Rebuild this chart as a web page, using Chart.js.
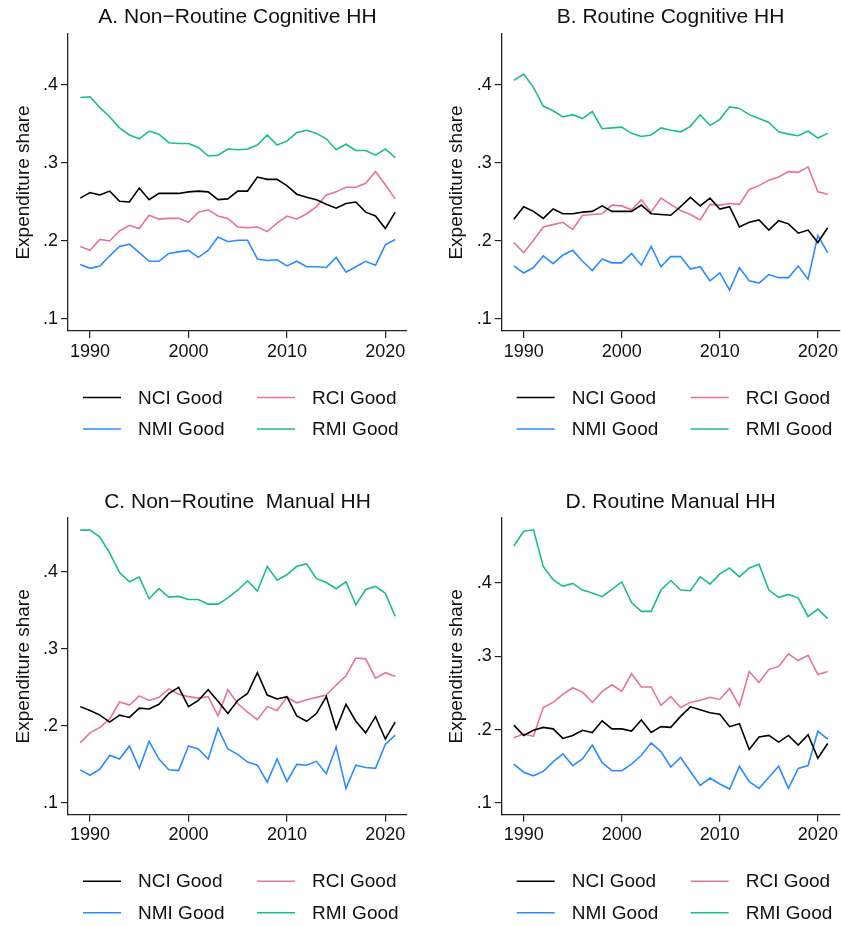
<!DOCTYPE html>
<html>
<head>
<meta charset="utf-8">
<script src="https://cdn.jsdelivr.net/npm/chart.js@4.4.1/dist/chart.umd.min.js"></script>
<style>
  body { margin: 0; background: #fff; }
  #wrap { position: relative; width: 841px; height: 926px; }
  canvas { position: absolute; }
</style>
</head>
<body>
<div id="wrap">
  <canvas id="panel-a" width="420" height="460" style="left:0;top:0"></canvas>
  <canvas id="panel-b" width="421" height="460" style="left:420px;top:0"></canvas>
  <canvas id="panel-c" width="420" height="466" style="left:0;top:460px"></canvas>
  <canvas id="panel-d" width="421" height="466" style="left:420px;top:460px"></canvas>
</div>
<script>
'use strict';

// DATA
let years = [];
for (let y = 1989; y <= 2021; y++) years.push(y);

let seriesNames = ['NCI Good', 'RCI Good', 'NMI Good', 'RMI Good'];
let seriesColors = ['#000000', '#e8739a', '#2b8cff', '#1bbf85'];
let xTicks = [1990, 2000, 2010, 2020];
let yTicks = [0.1, 0.2, 0.3, 0.4];
let panelTitles = ['A. Non\u2212Routine Cognitive HH', 'B. Routine Cognitive HH', 'C. Non\u2212Routine  Manual HH', 'D. Routine Manual HH'];

// A. Non-Routine Cognitive HH
let aNci = [0.255, 0.262, 0.259, 0.264, 0.251, 0.250, 0.268, 0.253, 0.261, 0.261, 0.261, 0.263, 0.264, 0.263, 0.253, 0.254, 0.264, 0.264, 0.282, 0.279, 0.279, 0.271, 0.260, 0.256, 0.253, 0.247, 0.242, 0.248, 0.250, 0.237, 0.232, 0.216, 0.237];
let aRci = [0.193, 0.188, 0.202, 0.200, 0.213, 0.220, 0.216, 0.233, 0.228, 0.229, 0.229, 0.224, 0.237, 0.240, 0.232, 0.229, 0.218, 0.217, 0.218, 0.212, 0.223, 0.232, 0.228, 0.235, 0.244, 0.259, 0.263, 0.269, 0.269, 0.274, 0.289, 0.272, 0.254];
let aNmi = [0.170, 0.165, 0.168, 0.181, 0.193, 0.196, 0.185, 0.174, 0.174, 0.184, 0.186, 0.188, 0.179, 0.188, 0.205, 0.199, 0.201, 0.201, 0.177, 0.175, 0.176, 0.168, 0.174, 0.167, 0.167, 0.166, 0.179, 0.160, 0.167, 0.174, 0.169, 0.195, 0.202];
let aRmi = [0.384, 0.385, 0.371, 0.359, 0.345, 0.336, 0.331, 0.341, 0.337, 0.326, 0.325, 0.325, 0.320, 0.309, 0.310, 0.318, 0.317, 0.318, 0.323, 0.336, 0.323, 0.328, 0.339, 0.342, 0.338, 0.331, 0.317, 0.324, 0.316, 0.316, 0.310, 0.318, 0.307];

// B. Routine Cognitive HH
let bNci = [0.228, 0.244, 0.238, 0.229, 0.241, 0.235, 0.235, 0.237, 0.238, 0.245, 0.238, 0.238, 0.238, 0.246, 0.235, 0.234, 0.233, 0.244, 0.256, 0.245, 0.255, 0.241, 0.244, 0.218, 0.224, 0.227, 0.214, 0.226, 0.222, 0.210, 0.214, 0.198, 0.217];
let bRci = [0.198, 0.185, 0.201, 0.218, 0.221, 0.224, 0.215, 0.233, 0.234, 0.235, 0.246, 0.245, 0.240, 0.253, 0.237, 0.255, 0.247, 0.239, 0.234, 0.227, 0.247, 0.246, 0.248, 0.247, 0.266, 0.271, 0.278, 0.282, 0.289, 0.288, 0.295, 0.263, 0.260];
let bNmi = [0.168, 0.159, 0.166, 0.181, 0.171, 0.182, 0.188, 0.174, 0.162, 0.177, 0.172, 0.172, 0.184, 0.169, 0.193, 0.167, 0.180, 0.180, 0.164, 0.167, 0.149, 0.159, 0.137, 0.166, 0.149, 0.146, 0.157, 0.153, 0.153, 0.168, 0.151, 0.207, 0.185];
let bRmi = [0.406, 0.414, 0.397, 0.373, 0.367, 0.359, 0.362, 0.357, 0.366, 0.344, 0.345, 0.346, 0.338, 0.334, 0.336, 0.345, 0.342, 0.340, 0.347, 0.362, 0.348, 0.356, 0.372, 0.370, 0.362, 0.357, 0.352, 0.340, 0.337, 0.335, 0.341, 0.332, 0.338];

// C. Non-Routine Manual HH
let cNci = [0.225, 0.220, 0.214, 0.205, 0.214, 0.211, 0.223, 0.222, 0.228, 0.242, 0.250, 0.225, 0.233, 0.247, 0.232, 0.216, 0.233, 0.242, 0.269, 0.240, 0.235, 0.238, 0.213, 0.206, 0.216, 0.238, 0.196, 0.228, 0.206, 0.191, 0.212, 0.183, 0.205];
let cRci = [0.178, 0.191, 0.198, 0.209, 0.231, 0.227, 0.239, 0.233, 0.237, 0.248, 0.241, 0.238, 0.236, 0.238, 0.213, 0.247, 0.229, 0.218, 0.208, 0.225, 0.220, 0.237, 0.230, 0.234, 0.237, 0.240, 0.253, 0.265, 0.288, 0.287, 0.262, 0.269, 0.264];
let cNmi = [0.143, 0.136, 0.144, 0.162, 0.157, 0.174, 0.145, 0.180, 0.157, 0.143, 0.142, 0.174, 0.170, 0.157, 0.197, 0.170, 0.163, 0.153, 0.149, 0.127, 0.157, 0.128, 0.150, 0.149, 0.154, 0.138, 0.173, 0.119, 0.149, 0.146, 0.145, 0.176, 0.188];
let cRmi = [0.454, 0.454, 0.445, 0.424, 0.399, 0.387, 0.393, 0.365, 0.378, 0.367, 0.368, 0.364, 0.364, 0.358, 0.358, 0.366, 0.376, 0.388, 0.375, 0.407, 0.389, 0.396, 0.407, 0.410, 0.391, 0.386, 0.378, 0.387, 0.357, 0.377, 0.381, 0.372, 0.342];

// D. Routine Manual HH
let dNci = [0.206, 0.192, 0.199, 0.203, 0.201, 0.188, 0.192, 0.199, 0.196, 0.212, 0.201, 0.201, 0.198, 0.213, 0.196, 0.204, 0.203, 0.218, 0.231, 0.227, 0.223, 0.221, 0.204, 0.208, 0.173, 0.190, 0.192, 0.183, 0.192, 0.179, 0.193, 0.161, 0.181];
let dRci = [0.189, 0.194, 0.191, 0.230, 0.237, 0.248, 0.257, 0.251, 0.237, 0.252, 0.261, 0.252, 0.276, 0.258, 0.258, 0.233, 0.245, 0.230, 0.237, 0.240, 0.244, 0.241, 0.256, 0.232, 0.279, 0.264, 0.282, 0.286, 0.303, 0.294, 0.301, 0.275, 0.279];
let dNmi = [0.153, 0.142, 0.137, 0.143, 0.156, 0.167, 0.151, 0.160, 0.179, 0.155, 0.144, 0.144, 0.153, 0.165, 0.182, 0.170, 0.149, 0.162, 0.143, 0.124, 0.134, 0.126, 0.119, 0.150, 0.129, 0.120, 0.135, 0.150, 0.120, 0.147, 0.151, 0.198, 0.187];
let dRmi = [0.450, 0.470, 0.472, 0.422, 0.404, 0.395, 0.399, 0.390, 0.386, 0.381, 0.391, 0.401, 0.373, 0.361, 0.361, 0.390, 0.403, 0.390, 0.389, 0.408, 0.398, 0.412, 0.420, 0.408, 0.420, 0.425, 0.390, 0.380, 0.384, 0.379, 0.354, 0.364, 0.351];

// LAYOUT for each panel (pixels inside its canvas)
let panels = [
  { id: 'panel-a', title: panelTitles[0], series: [aNci, aRci, aNmi, aRmi], axisW: 68, titlePad: [4.4, 4.4], xH: 129, right: 13, yMin: 0.0846, yMax: 0.4654, yTitlePad: 12 },
  { id: 'panel-b', title: panelTitles[1], series: [bNci, bRci, bNmi, bRmi], axisW: 81.7, titlePad: [4.4, 4.4], xH: 129, right: 1, yMin: 0.0846, yMax: 0.4654, yTitlePad: 25 },
  { id: 'panel-c', title: panelTitles[2], series: [cNci, cRci, cNmi, cRmi], axisW: 68, titlePad: [29.4, 3.4], xH: 111.3, right: 13, yMin: 0.0848, yMax: 0.4697, yTitlePad: 12 },
  { id: 'panel-d', title: panelTitles[3], series: [dNci, dRci, dNmi, dRmi], axisW: 81.7, titlePad: [29.4, 3.4], xH: 111.3, right: 1, yMin: 0.0841, yMax: 0.4881, yTitlePad: 25 }
];

const fontFamily = '"Liberation Sans", Arial, Helvetica, sans-serif';
const axisColor = '#222';

// legend in two columns under the plot, like the original
const gridLegend = {
  id: 'gridLegend',
  afterDraw(chart) {
    const ctx = chart.ctx;
    const area = chart.chartArea;
    const colX = [15, 189];
    const rowY = [66.5, 98];
    ctx.save();
    ctx.font = '19px ' + fontFamily;
    ctx.textBaseline = 'middle';
    ctx.textAlign = 'left';
    chart.data.datasets.forEach((ds, i) => {
      const x0 = area.left + colX[i % 2];
      const y = area.bottom + rowY[Math.floor(i / 2)];
      ctx.strokeStyle = ds.borderColor;
      ctx.lineWidth = 1.6;
      ctx.beginPath();
      ctx.moveTo(x0, y);
      ctx.lineTo(x0 + 38, y);
      ctx.stroke();
      ctx.fillStyle = '#111';
      ctx.fillText(ds.label, x0 + 55, y + 1);
    });
    ctx.restore();
  }
};

function makePanel(p) {
  let datasets = [];
  for (let s = 0; s < seriesNames.length; s++) {
    datasets.push({
      label: seriesNames[s],
      data: years.map((yr, i) => ({ x: yr, y: p.series[s][i] })),
      borderColor: seriesColors[s],
      backgroundColor: seriesColors[s],
      borderWidth: 1.6,
      pointRadius: 0,
      tension: 0,
      fill: false
    });
  }

  const ctx = document.getElementById(p.id);
  return new Chart(ctx, {
    type: 'line',
    data: { datasets: datasets },
    plugins: [gridLegend],
    options: {
      responsive: false,
      animation: false,
      devicePixelRatio: 1,
      layout: { padding: { left: 0, right: p.right, top: 0, bottom: 0 } },
      plugins: {
        legend: { display: false },
        tooltip: { enabled: false },
        title: {
          display: true,
          fullSize: false,
          text: p.title,
          color: '#111',
          font: { family: fontFamily, size: 21, weight: 'normal', lineHeight: 1.2 },
          padding: { top: p.titlePad[0], bottom: p.titlePad[1] }
        }
      },
      scales: {
        x: {
          type: 'linear',
          min: 1987.76,
          max: 2022.2,
          afterBuildTicks: (scale) => { scale.ticks = xTicks.map(v => ({ value: v })); },
          afterFit: (scale) => { scale.height = p.xH; },
          grid: { drawOnChartArea: false, drawTicks: true, tickLength: 7, color: axisColor, lineWidth: 1.2 },
          border: { display: true, color: axisColor, width: 1.3 },
          ticks: { color: '#111', font: { family: fontFamily, size: 18 }, padding: 3, maxRotation: 0, autoSkip: false, callback: (v) => String(v) }
        },
        y: {
          min: p.yMin,
          max: p.yMax,
          afterBuildTicks: (scale) => { scale.ticks = yTicks.map(v => ({ value: v })); },
          afterFit: (scale) => { scale.width = p.axisW; },
          grid: { drawOnChartArea: false, drawTicks: true, tickLength: 7, color: axisColor, lineWidth: 1.2 },
          border: { display: true, color: axisColor, width: 1.3 },
          ticks: { color: '#111', font: { family: fontFamily, size: 18 }, padding: 3, autoSkip: false, callback: (v) => v.toFixed(1).replace(/^0/, '') },
          title: {
            display: true,
            text: 'Expenditure share',
            color: '#111',
            font: { family: fontFamily, size: 19, lineHeight: 1.2 },
            padding: { top: p.yTitlePad, bottom: 0 }
          }
        }
      }
    }
  });
}

for (let i = 0; i < panels.length; i++) {
  makePanel(panels[i]);
}
</script>
</body>
</html>
